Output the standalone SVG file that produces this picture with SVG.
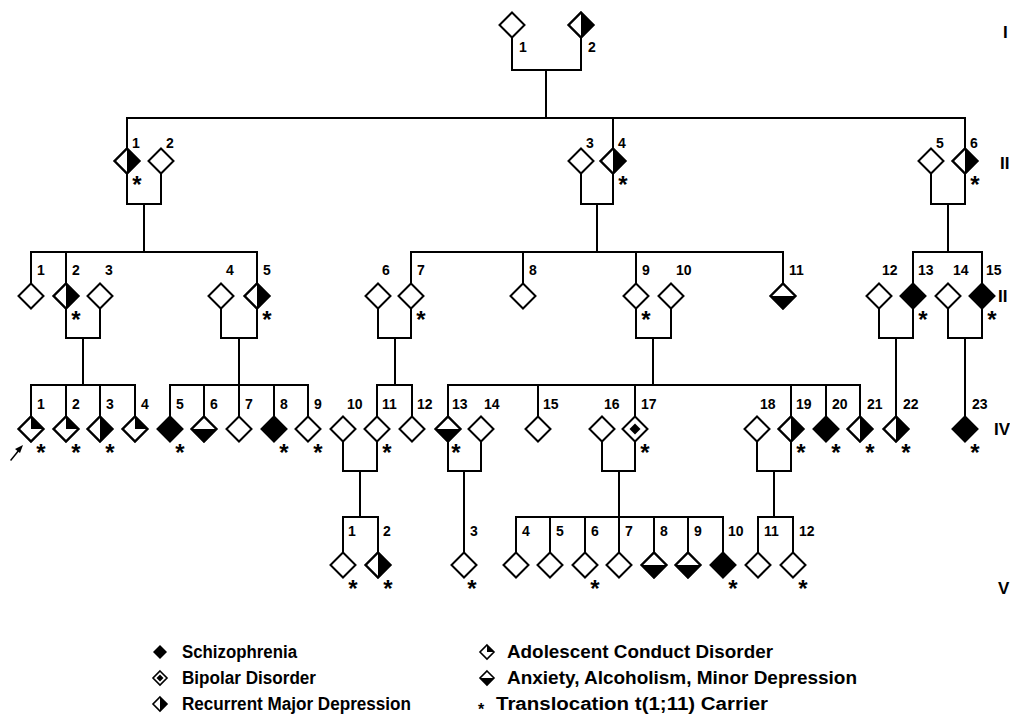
<svg xmlns="http://www.w3.org/2000/svg" xmlns:xlink="http://www.w3.org/1999/xlink" width="1010" height="719" viewBox="0 0 1010 719">
<style>
.ln{fill:none;stroke:#000;stroke-width:2;stroke-linecap:square}
.o{fill:#fff;stroke:#000;stroke-width:2;stroke-linejoin:miter}
.f{fill:#000;stroke:none}
.n{font-family:"Liberation Sans",Arial,Helvetica,sans-serif;font-weight:bold;font-size:14px;fill:#000}
.s{font-family:"Liberation Sans",Arial,Helvetica,sans-serif;font-weight:bold;font-size:24px;fill:#000;text-anchor:middle}
.g{font-family:"Liberation Sans",Arial,Helvetica,sans-serif;font-weight:bold;font-size:17px;fill:#000}
.lg{font-family:"Liberation Sans",Arial,Helvetica,sans-serif;font-weight:bold;font-size:18px;fill:#000}
</style>
<defs>
<path id="dia" d="M0,-12.5 L12.5,0 L0,12.5 L-12.5,0 Z"/>
<g id="E"><use href="#dia" class="o"/></g>
<g id="S"><use href="#dia" class="o"/><use href="#dia" class="f"/></g>
<g id="R"><use href="#dia" class="o"/><path class="f" d="M0,-12.5 L12.5,0 L0,12.5 Z"/><use href="#dia" class="o" style="fill:none"/></g>
<g id="A"><use href="#dia" class="o"/><path class="f" d="M-12.5,0 L12.5,0 L0,12.5 Z"/><use href="#dia" class="o" style="fill:none"/></g>
<g id="C"><use href="#dia" class="o"/><path class="f" d="M0,-12.5 L12.5,0 L0,0 Z"/><use href="#dia" class="o" style="fill:none"/></g>
<g id="B"><use href="#dia" class="o"/><path class="f" d="M0,-5.5 L5.5,0 L0,5.5 L-5.5,0 Z"/></g>
<path id="ldia" d="M0,-7 L7,0 L0,7 L-7,0 Z"/>
</defs>

<g id="connectors" class="ln">
<path d="M512,37.5 V70 H581 V37.5 M546,70 V118 M127,118 H965 M127,118 V148.5 M613,118 V148.5 M965,118 V148.5"/>
<path d="M127,173.5 V204 H161 V173.5 M144,204 V252 M581,173.5 V204 H613 V173.5 M597,204 V252 M931,173.5 V204 H965 V173.5 M948,204 V252"/>
<path d="M31,252 H257 M31,252 V283.5 M66,252 V283.5 M257,252 V283.5 M411,252 H783 M411,252 V283.5 M523,252 V283.5 M636,252 V283.5 M783,252 V283.5 M913,252 H982 M913,252 V283.5 M982,252 V283.5"/>
<path d="M66,308.5 V338 H100 V308.5 M83,338 V385 M221,308.5 V338 H257 V308.5 M239,338 V385 M378,308.5 V338 H411 V308.5 M395,338 V385 M636,308.5 V338 H671 V308.5 M653,338 V385 M879,308.5 V338 H913 V308.5 M896,338 V416.5 M948,308.5 V338 H982 V308.5 M965,338 V416.5"/>
<path d="M31,385 H135 M31,385 V416.5 M66,385 V416.5 M100,385 V416.5 M135,385 V416.5 M170,385 H308 M170,385 V416.5 M204,385 V416.5 M239,385 V416.5 M274,385 V416.5 M308,385 V416.5 M377,385 H412 M377,385 V416.5 M412,385 V416.5 M448,385 H860 M448,385 V416.5 M538,385 V416.5 M635,385 V416.5 M791,385 V416.5 M826,385 V416.5 M860,385 V416.5"/>
<path d="M343,441.5 V471 H377 V441.5 M360,471 V517 M448,441.5 V471 H481 V441.5 M464,471 V552.5 M602,441.5 V471 H635 V441.5 M619,471 V517 M757,441.5 V471 H791 V441.5 M774,471 V517"/>
<path d="M343,517 H378 M343,517 V552.5 M378,517 V552.5 M516,517 H723 M516,517 V552.5 M550,517 V552.5 M585,517 V552.5 M619,517 V552.5 M654,517 V552.5 M688,517 V552.5 M723,517 V552.5 M758,517 H793 M758,517 V552.5 M793,517 V552.5"/>
<path d="M11,460 L19,450" style="stroke-width:1.5"/>
<path d="M23,445 L15,449 L20,453 Z" style="fill:#000;stroke:none"/>
</g>

<!-- Generation I -->
<g id="I-1"><use href="#E" x="512" y="25"/><text class="n" x="519" y="52">1</text></g>
<g id="I-2"><use href="#R" x="581" y="25"/><text class="n" x="588" y="52">2</text></g>

<!-- Generation II -->
<g id="II-1"><use href="#R" x="127" y="161"/><text class="n" x="132" y="148">1</text><text class="s" x="137" y="193">*</text></g>
<g id="II-2"><use href="#E" x="161" y="161"/><text class="n" x="166" y="148">2</text></g>
<g id="II-3"><use href="#E" x="581" y="161"/><text class="n" x="586" y="148">3</text></g>
<g id="II-4"><use href="#R" x="613" y="161"/><text class="n" x="618" y="148">4</text><text class="s" x="623" y="193">*</text></g>
<g id="II-5"><use href="#E" x="931" y="161"/><text class="n" x="936" y="148">5</text></g>
<g id="II-6"><use href="#R" x="965" y="161"/><text class="n" x="970" y="148">6</text><text class="s" x="975" y="193">*</text></g>

<!-- Generation III -->
<g id="III-1"><use href="#E" x="31" y="296"/><text class="n" x="37" y="275">1</text></g>
<g id="III-2"><use href="#R" x="66" y="296"/><text class="n" x="72" y="275">2</text><text class="s" x="76" y="328">*</text></g>
<g id="III-3"><use href="#E" x="100" y="296"/><text class="n" x="105" y="275">3</text></g>
<g id="III-4"><use href="#E" x="221" y="296"/><text class="n" x="226" y="275">4</text></g>
<g id="III-5"><use href="#R" x="257" y="296"/><text class="n" x="263" y="275">5</text><text class="s" x="267" y="328">*</text></g>
<g id="III-6"><use href="#E" x="378" y="296"/><text class="n" x="382" y="275">6</text></g>
<g id="III-7"><use href="#E" x="411" y="296"/><text class="n" x="417" y="275">7</text><text class="s" x="421" y="328">*</text></g>
<g id="III-8"><use href="#E" x="523" y="296"/><text class="n" x="529" y="275">8</text></g>
<g id="III-9"><use href="#E" x="636" y="296"/><text class="n" x="642" y="275">9</text><text class="s" x="646" y="328">*</text></g>
<g id="III-10"><use href="#E" x="671" y="296"/><text class="n" x="676" y="275">10</text></g>
<g id="III-11"><use href="#A" x="783" y="296"/><text class="n" x="789" y="275">11</text></g>
<g id="III-12"><use href="#E" x="879" y="296"/><text class="n" x="882" y="275">12</text></g>
<g id="III-13"><use href="#S" x="913" y="296"/><text class="n" x="918" y="275">13</text><text class="s" x="923" y="328">*</text></g>
<g id="III-14"><use href="#E" x="948" y="296"/><text class="n" x="953" y="275">14</text></g>
<g id="III-15"><use href="#S" x="982" y="296"/><text class="n" x="986" y="275">15</text><text class="s" x="992" y="328">*</text></g>

<!-- Generation IV -->
<g id="IV-1"><use href="#C" x="31" y="429"/><text class="n" x="37" y="409">1</text><text class="s" x="41" y="461">*</text></g>
<g id="IV-2"><use href="#C" x="66" y="429"/><text class="n" x="72" y="409">2</text><text class="s" x="76" y="461">*</text></g>
<g id="IV-3"><use href="#R" x="100" y="429"/><text class="n" x="106" y="409">3</text><text class="s" x="110" y="461">*</text></g>
<g id="IV-4"><use href="#C" x="135" y="429"/><text class="n" x="141" y="409">4</text></g>
<g id="IV-5"><use href="#S" x="170" y="429"/><text class="n" x="176" y="409">5</text><text class="s" x="180" y="461">*</text></g>
<g id="IV-6"><use href="#A" x="204" y="429"/><text class="n" x="210" y="409">6</text></g>
<g id="IV-7"><use href="#E" x="239" y="429"/><text class="n" x="245" y="409">7</text></g>
<g id="IV-8"><use href="#S" x="274" y="429"/><text class="n" x="280" y="409">8</text><text class="s" x="284" y="461">*</text></g>
<g id="IV-9"><use href="#E" x="308" y="429"/><text class="n" x="314" y="409">9</text><text class="s" x="318" y="461">*</text></g>
<g id="IV-10"><use href="#E" x="343" y="429"/><text class="n" x="347" y="409">10</text></g>
<g id="IV-11"><use href="#E" x="377" y="429"/><text class="n" x="382" y="409">11</text><text class="s" x="387" y="461">*</text></g>
<g id="IV-12"><use href="#E" x="412" y="429"/><text class="n" x="417" y="409">12</text></g>
<g id="IV-13"><use href="#A" x="448" y="429"/><text class="n" x="452" y="409">13</text><text class="s" x="456" y="461">*</text></g>
<g id="IV-14"><use href="#E" x="481" y="429"/><text class="n" x="484" y="409">14</text></g>
<g id="IV-15"><use href="#E" x="538" y="429"/><text class="n" x="543" y="409">15</text></g>
<g id="IV-16"><use href="#E" x="602" y="429"/><text class="n" x="604" y="409">16</text></g>
<g id="IV-17"><use href="#B" x="635" y="429"/><text class="n" x="641" y="409">17</text><text class="s" x="645" y="461">*</text></g>
<g id="IV-18"><use href="#E" x="757" y="429"/><text class="n" x="760" y="409">18</text></g>
<g id="IV-19"><use href="#R" x="791" y="429"/><text class="n" x="796" y="409">19</text><text class="s" x="801" y="461">*</text></g>
<g id="IV-20"><use href="#S" x="826" y="429"/><text class="n" x="832" y="409">20</text><text class="s" x="836" y="461">*</text></g>
<g id="IV-21"><use href="#R" x="860" y="429"/><text class="n" x="867" y="409">21</text><text class="s" x="870" y="461">*</text></g>
<g id="IV-22"><use href="#R" x="896" y="429"/><text class="n" x="903" y="409">22</text><text class="s" x="906" y="461">*</text></g>
<g id="IV-23"><use href="#S" x="965" y="429"/><text class="n" x="972" y="409">23</text><text class="s" x="975" y="461">*</text></g>

<!-- Generation V -->
<g id="V-1"><use href="#E" x="343" y="565"/><text class="n" x="348" y="536">1</text><text class="s" x="353" y="597">*</text></g>
<g id="V-2"><use href="#R" x="378" y="565"/><text class="n" x="383" y="536">2</text><text class="s" x="388" y="597">*</text></g>
<g id="V-3"><use href="#E" x="464" y="565"/><text class="n" x="470" y="536">3</text><text class="s" x="472" y="597">*</text></g>
<g id="V-4"><use href="#E" x="516" y="565"/><text class="n" x="522" y="536">4</text></g>
<g id="V-5"><use href="#E" x="550" y="565"/><text class="n" x="556" y="536">5</text></g>
<g id="V-6"><use href="#E" x="585" y="565"/><text class="n" x="591" y="536">6</text><text class="s" x="595" y="597">*</text></g>
<g id="V-7"><use href="#E" x="619" y="565"/><text class="n" x="625" y="536">7</text></g>
<g id="V-8"><use href="#A" x="654" y="565"/><text class="n" x="660" y="536">8</text></g>
<g id="V-9"><use href="#A" x="688" y="565"/><text class="n" x="694" y="536">9</text></g>
<g id="V-10"><use href="#S" x="723" y="565"/><text class="n" x="728" y="536">10</text><text class="s" x="733" y="597">*</text></g>
<g id="V-11"><use href="#E" x="758" y="565"/><text class="n" x="764" y="536">11</text></g>
<g id="V-12"><use href="#E" x="793" y="565"/><text class="n" x="799" y="536">12</text><text class="s" x="803" y="597">*</text></g>

<!-- Generation labels -->
<g id="generations">
<text class="g" x="1003" y="38">I</text>
<text class="g" x="1000" y="169">II</text>
<text class="g" x="998" y="302">II</text>
<text class="g" x="994" y="435">IV</text>
<text class="g" x="998" y="594">V</text>
</g>

<!-- Legend -->
<g id="legend">
<use href="#ldia" x="160" y="652" class="f"/>
<text class="lg" x="182" y="658" textLength="115" lengthAdjust="spacingAndGlyphs">Schizophrenia</text>
<use href="#ldia" x="160" y="678" class="o" style="stroke-width:1.6"/>
<path class="f" d="M160,674.5 L163.5,678 L160,681.5 L156.5,678 Z"/>
<text class="lg" x="182" y="684" textLength="134" lengthAdjust="spacingAndGlyphs">Bipolar Disorder</text>
<use href="#ldia" x="160" y="704" class="o" style="stroke-width:1.6"/>
<path class="f" d="M160,697 L167,704 L160,711 Z"/>
<text class="lg" x="182" y="710" textLength="229" lengthAdjust="spacingAndGlyphs">Recurrent Major Depression</text>
<use href="#ldia" x="487" y="652" class="o" style="stroke-width:1.6"/>
<path class="f" d="M487,645 L494,652 L487,652 Z"/>
<text class="lg" x="507" y="658" textLength="266" lengthAdjust="spacingAndGlyphs">Adolescent Conduct Disorder</text>
<use href="#ldia" x="487" y="678" class="o" style="stroke-width:1.6"/>
<path class="f" d="M480,678 L494,678 L487,685 Z"/>
<text class="lg" x="507" y="684" textLength="350" lengthAdjust="spacingAndGlyphs">Anxiety, Alcoholism, Minor Depression</text>
<text class="s" x="481" y="715" style="font-size:16px">*</text>
<text class="lg" x="496" y="710" textLength="272" lengthAdjust="spacingAndGlyphs">Translocation t(1;11) Carrier</text>
</g>
</svg>
